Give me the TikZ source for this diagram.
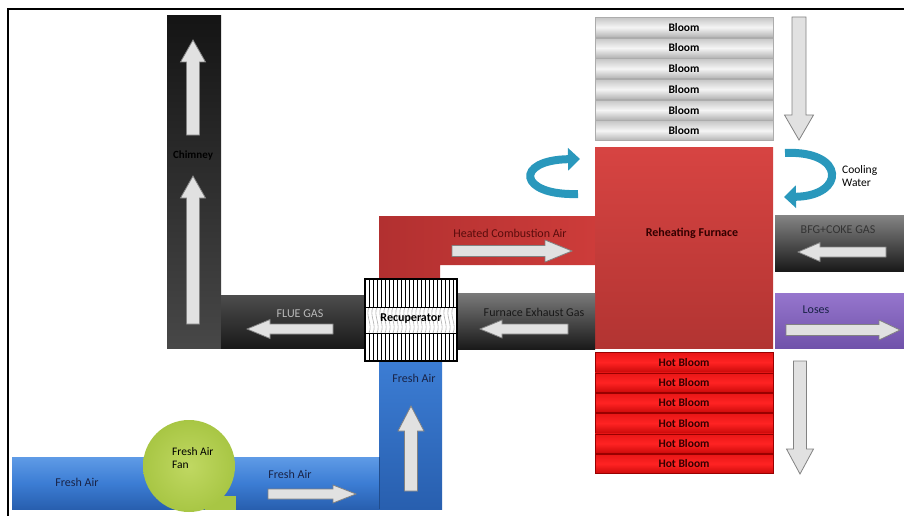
\documentclass[tikz,border=0pt]{standalone}
\usepackage{fontspec}
\setmainfont{Carlito}
\usetikzlibrary{arrows.meta}
\definecolor{navytext}{RGB}{25,35,70}
\definecolor{blueT}{RGB}{95,155,230}
\definecolor{blueM}{RGB}{60,125,212}
\definecolor{blueB}{RGB}{40,95,175}
\definecolor{redL}{RGB}{178,48,48}
\definecolor{redR}{RGB}{205,60,58}
\definecolor{furT}{RGB}{215,68,66}
\definecolor{furB}{RGB}{178,52,50}
\definecolor{hotT}{RGB}{232,22,22}
\definecolor{hotM}{RGB}{255,35,35}
\definecolor{hotB}{RGB}{205,10,10}
\definecolor{fanG}{RGB}{168,198,68}
\definecolor{fanL}{RGB}{192,216,98}
\definecolor{purT}{RGB}{150,118,205}
\definecolor{purB}{RGB}{112,82,170}
\definecolor{tealc}{RGB}{42,152,188}
\definecolor{darkred}{RGB}{90,12,12}
\definecolor{arrfill}{RGB}{225,225,225}
\definecolor{arredge}{RGB}{130,130,130}
\tikzset{
  txt/.style={font=\fontsize{12}{13.5}\selectfont, inner sep=0pt},
  btxt/.style={font=\fontsize{12}{13.5}\selectfont\bfseries, inner sep=0pt},
  bloom/.style={rectangle, minimum width=178pt, minimum height=20pt, inner sep=0pt,
    top color=gray!45, bottom color=gray!60, middle color=white!92!gray, draw=gray!65,
    font=\fontsize{11.5}{12}\selectfont\bfseries},
  hotbloom/.style={rectangle, minimum width=178pt, minimum height=19.5pt, inner sep=0pt,
    top color=hotT, bottom color=hotB, middle color=hotM, draw=red!60!black,
    text=black!80!red, font=\fontsize{11.5}{12}\selectfont\bfseries},
  curl/.style={line width=8pt, tealc, -{Triangle[length=12pt,width=22pt]}},
  pics/warr/.style n args={4}{code={
    \filldraw[fill=arrfill, draw=arredge, line width=0.8pt]
      (0,-#2) -- ({#1-#4},-#2) -- ({#1-#4},-#3) -- (#1,0) -- ({#1-#4},#3) -- ({#1-#4},#2) -- (0,#2) -- cycle;
  }}
}
\begin{document}
\begin{tikzpicture}[x=1pt,y=-1pt]
\useasboundingbox (0,0) rectangle (904,516);
% frame
\draw[line width=1.8pt] (8,516) -- (8,9) -- (904,9);

% chimney
\shade[top color=black!92, bottom color=black!72] (167,16) rectangle (221,348);
\shade[top color=black!70, bottom color=black!90] (221,295) rectangle (365,348);
\node[btxt, font=\fontsize{11}{12}\selectfont\bfseries] (chim) at (193,156) {Chimney};
\pic[rotate=90] at (193,135) {warr={95}{6.5}{12.5}{22}};
\pic[rotate=90] at (193,324) {warr={148}{6.5}{12.5}{22}};
\node[txt, text=gray!55] (flue) at (300,314) {FLUE GAS};
\pic[rotate=180] at (333,329) {warr={86}{5}{9.5}{23}};

% heated combustion air
\shade[left color=redL, right color=redR] (379,216) -- (595,216) -- (595,265) -- (440,265) -- (440,279) -- (379,279) -- cycle;
\node[txt, text=darkred] (hca) at (510,233) {Heated Combustion Air};
\pic at (452,251) {warr={120}{5.5}{11}{27}};

% furnace
\node[rectangle, minimum width=178pt, minimum height=201pt, top color=furT, bottom color=furB, inner sep=0pt] (fur) at (684,247.5) {};
\node[btxt, text=black!80!red] (furt) at (692,233) {Reheating Furnace};

% blooms
\foreach \i in {1,...,6} {
  \node[bloom] (bl\i) at (684,{17+20.67*(\i-0.5)}) {Bloom};
}
\foreach \i/\y in {1/362.2,2/382.5,3/402.8,4/423.2,5/443.5,6/463.8} {
  \node[hotbloom] (hb\i) at (684,\y) {Hot Bloom};
}
\pic[rotate=-90] at (799,17) {warr={123}{7}{14.5}{25}};
\pic[rotate=-90] at (800,361) {warr={113}{6.5}{13.5}{25}};

% cooling water
\coordinate (cl1) at (578,194);
\coordinate (cl2) at (580,159);
\coordinate (cr1) at (785,153);
\coordinate (cr2) at (784,197);
\draw[curl] (cl1) .. controls (518,196) and (514,160) .. (cl2);
\draw[curl] (cr1) .. controls (846,150) and (846,196) .. (cr2);
\node[txt, anchor=west, align=left, font=\fontsize{11.5}{13}\selectfont] (cw) at (842,176.5) {Cooling\\Water};

% BFG + coke gas
\shade[top color=black!48, bottom color=black!90] (775,215) rectangle (904,271);
\node[txt, text=black!80] (bfg) at (838,230) {BFG+COKE GAS};
\pic[rotate=180] at (886,252) {warr={88}{5}{9.5}{22}};

% furnace exhaust gas
\shade[top color=black!52, bottom color=black!90] (457,293) rectangle (595,349);
\node[txt, text=black!90] (exh) at (534,312) {Furnace Exhaust Gas};
\pic[rotate=180] at (568,329) {warr={88}{5}{9}{22}};

% loses
\shade[top color=purT, bottom color=purB] (775,293) rectangle (904,348);
\node[txt, text=navytext] (los) at (816,310) {Loses};
\pic at (786,330) {warr={114}{5.5}{10}{21}};

% fresh air ducts
\shade[top color=blueT, bottom color=blueB, middle color=blueM] (12,457) rectangle (379,509);
\shade[top color=blueM, bottom color=blueB] (379,361) rectangle (442,509);
\draw[blueB!80!black, line width=0.8pt] (379,457) -- (379,509);
\node[txt, text=navytext] (fa1) at (77,482) {Fresh Air};
\node[txt, text=navytext] (fa2) at (290,474) {Fresh Air};
\node[txt, text=navytext] (fa3) at (414,378) {Fresh Air};
\pic at (268,494) {warr={88}{5}{9}{23}};
\pic[rotate=90] at (411,491) {warr={85}{6.5}{13}{25}};

% fan
\fill[fanG] (205,496) rectangle (236,510);
\shade[inner color=fanL, outer color=fanG] (189,466) circle[radius=46];
\node[txt, anchor=west, align=left, font=\fontsize{11.5}{13}\selectfont] (fan) at (172,458.5) {Fresh Air\\Fan};

% recuperator
\fill[white] (365,279) rectangle (457,361);
\foreach \x in {369,373,...,453} {
  \draw[line width=1pt] (\x,279) -- (\x,307);
  \draw[line width=1pt] (\x,333) -- (\x,361);
  \draw[gray!60, line width=0.6pt] (\x,307) .. controls (\x-4,316) and (\x+4,324) .. (\x,333);
}
\draw[line width=0.6pt] (365,307) -- (457,307) (365,333) -- (457,333);
\draw[line width=1.5pt] (365,279) rectangle (457,361);
\node[btxt] (rec) at (411,319) {Recuperator};
\end{tikzpicture}
\end{document}
